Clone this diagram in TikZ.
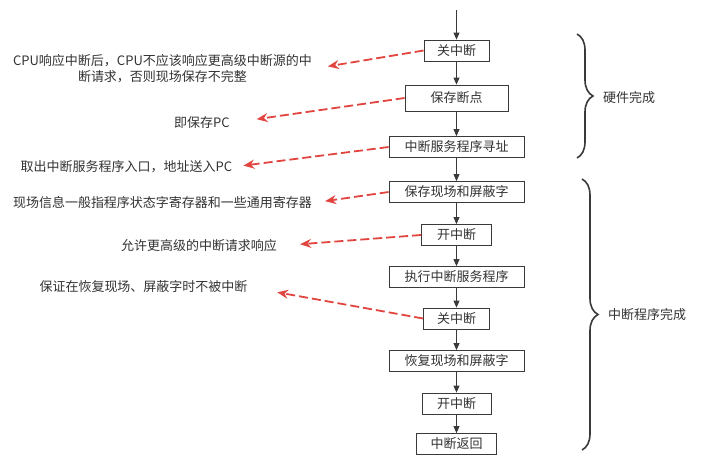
\documentclass[tikz,border=0pt]{standalone}
\usepackage{fontspec}
\setmainfont{Noto Sans CJK SC}
\usetikzlibrary{arrows.meta,decorations.pathreplacing}
\definecolor{LineGray}{HTML}{3a3a3a}
\definecolor{TextGray}{HTML}{333333}
\definecolor{NoteRed}{HTML}{e2453f}
\tikzset{
  box/.style={draw=LineGray, fill=white, text=TextGray, line width=0.8pt,
              minimum height=21pt, inner sep=0pt, font=\fontsize{13}{16}\selectfont},
  arrow/.style={-{Triangle[length=7pt,width=6pt]}, draw=LineGray, line width=0.8pt},
  notearrow/.style={-{Stealth[length=11pt,width=9pt]}, draw=NoteRed,
                    line width=1.8pt, dash pattern=on 9pt off 4pt},
  note/.style={text=TextGray, font=\fontsize{13}{16}\selectfont, align=center, inner sep=0pt},
  brace/.style={decorate, decoration={brace, amplitude=16pt}, draw=LineGray, line width=1.6pt},
  bracelabel/.style={note, anchor=west},
}
\newcommand{\xflow}{456.5}
\newcommand{\flowbox}[5][]{%
  \node[box, minimum width=#4pt, #1] (#2) at (\xflow,#3) {#5};%
}

\begin{document}
\begin{tikzpicture}[x=1pt, y=-1pt]
  \useasboundingbox[fill=white] (0,0) rectangle (702,463);

  % --- flow ----------------------------------------------------------------
  \coordinate (start) at (\xflow,10);
  \flowbox{cli-1}{50.5}{65}{关中断}
  \flowbox[minimum height=26pt]{savepc}{98}{103}{保存断点}
  \flowbox{lookup}{147}{135}{中断服务程序寻址}
  \flowbox{savectx}{192}{135}{保存现场和屏蔽字}
  \flowbox{sti-1}{235}{70}{开中断}
  \flowbox{service}{277}{135}{执行中断服务程序}
  \flowbox{cli-2}{318.5}{66}{关中断}
  \flowbox{restore}{361}{135}{恢复现场和屏蔽字}
  \flowbox{sti-2}{403.5}{69}{开中断}
  \flowbox{return}{444}{80}{中断返回}

  \draw[arrow] (start) -- (cli-1);
  \draw[arrow] (cli-1) -- (savepc);
  \draw[arrow] (savepc) -- (lookup);
  \draw[arrow] (lookup) -- (savectx);
  \draw[arrow] (savectx) -- (sti-1);
  \draw[arrow] (sti-1) -- (service);
  \draw[arrow] (service) -- (cli-2);
  \draw[arrow] (cli-2) -- (restore);
  \draw[arrow] (restore) -- (sti-2);
  \draw[arrow] (sti-2) -- (return);

  % --- notes on the left -----------------------------------------------------
  \node[note] (note-1) at (162.5,69)
    {CPU响应中断后，CPU不应该响应更高级中断源的中\\断请求，否则现场保存不完整};
  \node[note] (note-2) at (202,123) {即保存PC};
  \node[note] (note-3) at (126.5,167) {取出中断服务程序入口，地址送入PC};
  \node[note] (note-4) at (162.5,203) {现场信息一般指程序状态字寄存器和一些通用寄存器};
  \node[note] (note-5) at (199,246) {允许更高级的中断请求响应};
  \node[note] (note-6) at (143.5,287) {保证在恢复现场、屏蔽字时不被中断};

  \draw[notearrow, shorten >=16pt] (cli-1.west) -- (note-1.east);
  \draw[notearrow, shorten >=27pt] (savepc.west) -- (note-2.east);
  \draw[notearrow, shorten >=11pt] (lookup.west) -- (note-3.east);
  \draw[notearrow, shorten >=13pt] (savectx.west) -- (note-4.east);
  \draw[notearrow, shorten >=23pt] (sti-1.west) -- (note-5.east);
  \draw[notearrow, shorten >=30pt] (cli-2.west) -- (note-6.east);

  % --- braces ----------------------------------------------------------------
  \draw[brace] (577,34) -- (577,158);
  \node[bracelabel] (hw) at (603,98) {硬件完成};
  \draw[brace] (582,179) -- (582,450);
  \node[bracelabel] (sw) at (608,315) {中断程序完成};

\end{tikzpicture}
\end{document}
